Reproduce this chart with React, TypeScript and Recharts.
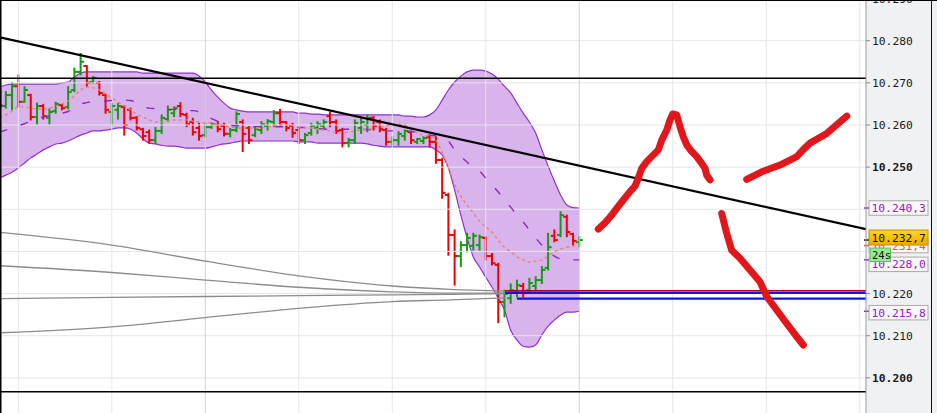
import React from 'react';
import { ComposedChart, XAxis, YAxis, Area, Line, Bar, ReferenceLine, ReferenceArea } from 'recharts';

// ---- OHLC bars (one per minute bar, index -1..92; bar -1 is cut by the left edge) ----
const FIRST_BAR = -1;
const opens = [
  10.2670,
  10.2645, 10.2671, 10.2692, 10.2655, 10.2671, 10.2619, 10.2645, 10.2617, 10.2633, 10.2647,
  10.2643, 10.2683, 10.2726, 10.2740, 10.2702, 10.2700, 10.2671, 10.2631, 10.2636, 10.2643,
  10.2636, 10.2617, 10.2590, 10.2583, 10.2564, 10.2586, 10.2614, 10.2628, 10.2645, 10.2624,
  10.2607, 10.2593, 10.2576, 10.2595, 10.2602, 10.2598, 10.2579, 10.2588, 10.2607, 10.2593,
  10.2576, 10.2588, 10.2598, 10.2607, 10.2628, 10.2607, 10.2598, 10.2588, 10.2564, 10.2581,
  10.2593, 10.2598, 10.2621, 10.2607, 10.2588, 10.2557, 10.2564, 10.2593, 10.2600, 10.2617,
  10.2607, 10.2588, 10.2560, 10.2564, 10.2574, 10.2583, 10.2560, 10.2562, 10.2571, 10.2560,
  10.2517, 10.2434, 10.2339, 10.2289, 10.2315, 10.2313, 10.2315, 10.2332, 10.2289, 10.2268,
  10.2180, 10.2189, 10.2204, 10.2218, 10.2208, 10.2218, 10.2232, 10.2261, 10.2337, 10.2339,
  10.2382, 10.2341, 10.2322,
];
const highs = [
  10.2680,
  10.2679, 10.2701, 10.2719, 10.2691, 10.2673, 10.2652, 10.2649, 10.2638, 10.2654, 10.2649,
  10.2691, 10.2735, 10.2770, 10.2741, 10.2715, 10.2703, 10.2673, 10.2651, 10.2651, 10.2646,
  10.2640, 10.2620, 10.2592, 10.2588, 10.2594, 10.2624, 10.2645, 10.2643, 10.2653, 10.2628,
  10.2616, 10.2604, 10.2604, 10.2605, 10.2608, 10.2604, 10.2592, 10.2631, 10.2612, 10.2596,
  10.2596, 10.2608, 10.2613, 10.2634, 10.2637, 10.2608, 10.2604, 10.2593, 10.2580, 10.2604,
  10.2608, 10.2612, 10.2631, 10.2612, 10.2592, 10.2568, 10.2612, 10.2616, 10.2624, 10.2620,
  10.2612, 10.2592, 10.2572, 10.2584, 10.2588, 10.2584, 10.2568, 10.2572, 10.2576, 10.2572,
  10.2521, 10.2438, 10.2351, 10.2323, 10.2343, 10.2343, 10.2339, 10.2335, 10.2295, 10.2272,
  10.2208, 10.2223, 10.2232, 10.2224, 10.2236, 10.2240, 10.2264, 10.2343, 10.2351, 10.2394,
  10.2386, 10.2343, 10.2335,
];
const lows = [
  10.2640,
  10.2640, 10.2636, 10.2643, 10.2654, 10.2612, 10.2602, 10.2614, 10.2602, 10.2628, 10.2636,
  10.2638, 10.2679, 10.2719, 10.2691, 10.2699, 10.2671, 10.2628, 10.2600, 10.2614, 10.2576,
  10.2612, 10.2588, 10.2564, 10.2557, 10.2556, 10.2580, 10.2608, 10.2620, 10.2620, 10.2596,
  10.2576, 10.2564, 10.2572, 10.2592, 10.2584, 10.2574, 10.2572, 10.2584, 10.2537, 10.2556,
  10.2572, 10.2580, 10.2588, 10.2596, 10.2600, 10.2586, 10.2571, 10.2556, 10.2556, 10.2576,
  10.2580, 10.2592, 10.2596, 10.2580, 10.2548, 10.2548, 10.2556, 10.2580, 10.2584, 10.2588,
  10.2584, 10.2552, 10.2552, 10.2552, 10.2564, 10.2556, 10.2556, 10.2556, 10.2548, 10.2509,
  10.2426, 10.2291, 10.2220, 10.2264, 10.2299, 10.2303, 10.2303, 10.2280, 10.2268, 10.2131,
  10.2145, 10.2177, 10.2192, 10.2192, 10.2204, 10.2208, 10.2224, 10.2256, 10.2323, 10.2335,
  10.2335, 10.2315, 10.2311,
];
const closes = [
  10.2646,
  10.2671, 10.2692, 10.2655, 10.2683, 10.2619, 10.2645, 10.2621, 10.2631, 10.2650, 10.2640,
  10.2678, 10.2726, 10.2750, 10.2700, 10.2712, 10.2676, 10.2636, 10.2645, 10.2645, 10.2600,
  10.2617, 10.2593, 10.2574, 10.2564, 10.2586, 10.2617, 10.2636, 10.2640, 10.2626, 10.2602,
  10.2583, 10.2574, 10.2595, 10.2602, 10.2590, 10.2579, 10.2588, 10.2626, 10.2579, 10.2564,
  10.2590, 10.2602, 10.2609, 10.2628, 10.2607, 10.2593, 10.2581, 10.2564, 10.2576, 10.2598,
  10.2602, 10.2607, 10.2607, 10.2586, 10.2557, 10.2564, 10.2605, 10.2607, 10.2617, 10.2598,
  10.2590, 10.2560, 10.2564, 10.2579, 10.2586, 10.2564, 10.2567, 10.2569, 10.2560, 10.2517,
  10.2439, 10.2339, 10.2289, 10.2315, 10.2332, 10.2337, 10.2334, 10.2289, 10.2272, 10.2180,
  10.2199, 10.2208, 10.2220, 10.2201, 10.2225, 10.2232, 10.2256, 10.2310, 10.2327, 10.2386,
  10.2346, 10.2325, 10.2327,
];

// ---- Bollinger band + moving average ----
const bandUpper = [
  10.2690,
  10.2695, 10.2697, 10.2697, 10.2697, 10.2697, 10.2697, 10.2697, 10.2697, 10.2697, 10.2700,
  10.2702, 10.2714, 10.2723, 10.2726, 10.2726, 10.2726, 10.2726, 10.2726, 10.2726, 10.2726,
  10.2726, 10.2726, 10.2723, 10.2723, 10.2723, 10.2723, 10.2723, 10.2723, 10.2723, 10.2723,
  10.2723, 10.2716, 10.2702, 10.2683, 10.2666, 10.2652, 10.2640, 10.2636, 10.2633, 10.2631,
  10.2631, 10.2631, 10.2631, 10.2631, 10.2631, 10.2631, 10.2631, 10.2628, 10.2628, 10.2626,
  10.2626, 10.2624, 10.2624, 10.2624, 10.2624, 10.2624, 10.2624, 10.2624, 10.2624, 10.2624,
  10.2624, 10.2624, 10.2624, 10.2624, 10.2621, 10.2621, 10.2619, 10.2619, 10.2624, 10.2636,
  10.2659, 10.2683, 10.2702, 10.2716, 10.2726, 10.2730, 10.2730, 10.2728, 10.2721, 10.2709,
  10.2692, 10.2676, 10.2652, 10.2628, 10.2607, 10.2581, 10.2541, 10.2503, 10.2467, 10.2434,
  10.2410, 10.2404, 10.2403,
];
const bandMiddle = [
  10.2583,
  10.2588, 10.2593, 10.2598, 10.2603, 10.2609, 10.2614, 10.2619, 10.2622, 10.2626, 10.2628,
  10.2632, 10.2641, 10.2650, 10.2653, 10.2656, 10.2656, 10.2657, 10.2658, 10.2659, 10.2659,
  10.2658, 10.2653, 10.2645, 10.2640, 10.2639, 10.2638, 10.2637, 10.2637, 10.2636, 10.2634,
  10.2634, 10.2631, 10.2624, 10.2615, 10.2609, 10.2603, 10.2599, 10.2598, 10.2598, 10.2596,
  10.2596, 10.2596, 10.2596, 10.2596, 10.2596, 10.2596, 10.2596, 10.2594, 10.2594, 10.2593,
  10.2592, 10.2590, 10.2590, 10.2590, 10.2590, 10.2590, 10.2590, 10.2590, 10.2589, 10.2588,
  10.2587, 10.2586, 10.2586, 10.2586, 10.2585, 10.2585, 10.2581, 10.2579, 10.2576, 10.2574,
  10.2571, 10.2562, 10.2541, 10.2526, 10.2512, 10.2500, 10.2491, 10.2474, 10.2458, 10.2441,
  10.2422, 10.2405, 10.2386, 10.2370, 10.2351, 10.2332, 10.2315, 10.2301, 10.2289, 10.2282,
  10.2280, 10.2280, 10.2280,
];
const bandLower = [
  10.2474,
  10.2481, 10.2488, 10.2498, 10.2510, 10.2522, 10.2531, 10.2541, 10.2548, 10.2555, 10.2557,
  10.2562, 10.2569, 10.2576, 10.2581, 10.2586, 10.2586, 10.2588, 10.2590, 10.2593, 10.2593,
  10.2590, 10.2581, 10.2567, 10.2557, 10.2555, 10.2552, 10.2550, 10.2550, 10.2548, 10.2545,
  10.2545, 10.2545, 10.2545, 10.2548, 10.2552, 10.2555, 10.2557, 10.2560, 10.2562, 10.2562,
  10.2562, 10.2562, 10.2562, 10.2562, 10.2562, 10.2562, 10.2562, 10.2560, 10.2560, 10.2560,
  10.2557, 10.2557, 10.2557, 10.2557, 10.2557, 10.2557, 10.2557, 10.2557, 10.2555, 10.2552,
  10.2550, 10.2548, 10.2548, 10.2548, 10.2548, 10.2548, 10.2548, 10.2548, 10.2548, 10.2541,
  10.2529, 10.2498, 10.2446, 10.2386, 10.2332, 10.2287, 10.2263, 10.2239, 10.2215, 10.2189,
  10.2161, 10.2113, 10.2090, 10.2075, 10.2073, 10.2078, 10.2102, 10.2123, 10.2137, 10.2149,
  10.2156, 10.2156, 10.2158,
];
const fastMA = [
  10.2617,
  10.2624, 10.2633, 10.2643, 10.2643, 10.2640, 10.2638, 10.2638, 10.2640, 10.2645, 10.2650,
  10.2657, 10.2669, 10.2683, 10.2690, 10.2688, 10.2683, 10.2674, 10.2664, 10.2655, 10.2645,
  10.2636, 10.2626, 10.2619, 10.2612, 10.2607, 10.2607, 10.2609, 10.2612, 10.2612, 10.2612,
  10.2609, 10.2607, 10.2605, 10.2605, 10.2602, 10.2598, 10.2595, 10.2593, 10.2593, 10.2593,
  10.2593, 10.2593, 10.2595, 10.2598, 10.2600, 10.2600, 10.2598, 10.2595, 10.2593, 10.2593,
  10.2590, 10.2588, 10.2586, 10.2583, 10.2583, 10.2583, 10.2586, 10.2588, 10.2590, 10.2593,
  10.2595, 10.2598, 10.2600, 10.2602, 10.2600, 10.2590, 10.2581, 10.2576, 10.2574, 10.2564,
  10.2536, 10.2498, 10.2460, 10.2431, 10.2410, 10.2391, 10.2372, 10.2358, 10.2346, 10.2327,
  10.2310, 10.2299, 10.2287, 10.2280, 10.2275, 10.2277, 10.2280, 10.2289, 10.2299, 10.2306,
  10.2310, 10.2313, 10.2314,
];

// ---- long moving averages (grey) ----
const greyBars = [-0.94, 17, 32, 47, 62, 71.3, 80.1];
const greyA = [10.2345, 10.2315, 10.2277, 10.2242, 10.2218, 10.2210, 10.2206];
const greyB = [10.2266, 10.2250, 10.2232, 10.2215, 10.2204, 10.2201, 10.2201];
const greyC = [10.2188, 10.2191, 10.2193, 10.2195, 10.2197, 10.2198, 10.2200];
const greyD = [10.2107, 10.2121, 10.2143, 10.2165, 10.2181, 10.2185, 10.2190];

// ---- hand drawn strokes (bar index, price) ----
const strokePeak = [
  [95.05, 10.2353], [96.13, 10.2368], [97.2, 10.2386], [98.0, 10.2402], [99.06, 10.2422],
  [100.14, 10.2442], [100.94, 10.2455], [101.47, 10.2474], [102.02, 10.2497], [102.82, 10.2513],
  [103.62, 10.2525], [104.68, 10.2541], [105.23, 10.2564], [106.03, 10.2588], [106.56, 10.2612],
  [106.99, 10.2626], [107.63, 10.2624], [108.16, 10.2596], [108.69, 10.2572], [109.24, 10.2553],
  [110.04, 10.2537], [110.84, 10.2525], [111.64, 10.2509], [112.17, 10.2497], [112.44, 10.2481],
  [112.97, 10.2470],
];
const strokeRise = [
  [118.86, 10.2471], [121.27, 10.2489], [124.21, 10.2505], [126.89, 10.2525], [127.9, 10.2541],
  [129.02, 10.2557], [131.7, 10.2580], [134.91, 10.2621],
];
const strokeFall = [
  [114.85, 10.2390], [115.65, 10.2343], [116.45, 10.2303], [117.78, 10.2284], [119.39, 10.2256],
  [120.99, 10.2228], [122.07, 10.2193], [123.67, 10.2161], [125.28, 10.2129], [126.88, 10.2098],
  [127.94, 10.2078],
];

// ---- drawn levels ----
const trendPoints = [[-0.935, 10.2808], [138, 10.2353]];
const blackLevels = [10.2711, 10.1967];
const colorLevels = [
  { p: 10.2207, from: 80.1 },
  { p: 10.2202, from: 80.1 },
  { p: 10.2188, from: 82.0 },
];
const levelStyles = [
  { color: '#b0001a', w: 1.3 },
  { color: '#0a14e6', w: 2.6 },
  { color: '#0a14e6', w: 2.4 },
];

// ---- axis ----
const X_MIN = -0.935;
const X_MAX = 138.0;
const Y_MIN = 10.19166;
const Y_MAX = 10.28966;
const yTicks = [10.2, 10.21, 10.22, 10.25, 10.26, 10.27, 10.28, 10.29];
const gridPrices = [10.2, 10.21, 10.22, 10.23, 10.24, 10.25, 10.26, 10.27, 10.28, 10.29];
const gridBars = [2, 17, 32, 47, 62, 77, 92, 107, 122, 137];
const majorGridBars = [32, 92];

// ---- price tags on the axis ----
const tagValues = [10.2314, 10.2403, 10.2280, 10.2158];
const tagTexts = ['10.231,4', '10.240,3', '10.228,0', '10.215,8'];
const tagColors = ['#e05a5a', '#9520c9', '#9520c9', '#9520c9'];
const tagNudge = [0, 0, 4.5, 1.4];
const lastPrice = 10.2327;
const lastPriceText = '10.232,7';
const countdownText = '24s';

const cyanMark = { x1: -0.935, x2: -0.62, y1: 10.2636, y2: 10.2688 };

const data = opens.map((o, k) => ({
  i: k + FIRST_BAR,
  o,
  h: highs[k],
  l: lows[k],
  c: closes[k],
  hl: [lows[k], highs[k]],
  band: [bandLower[k], bandUpper[k]],
  mid: bandMiddle[k],
  ema: fastMA[k],
}));

const toPts = (xs: number[], ps: number[]) => xs.map((x, k) => ({ i: x, p: ps[k] }));
const pairPts = (arr: number[][]) => arr.map(([x, p]) => ({ i: x, p }));

const GREEN = '#149a14';
const RED = '#f20000';
const MONO = "'DejaVu Sans Mono', monospace";

const Candle = (props: any) => {
  const { x, y, width, height, payload } = props;
  if (x == null || y == null) return null;
  const top = Math.min(y, y + height);
  const bot = Math.max(y, y + height);
  const { h, l, o, c } = payload;
  const span = h - l || 1;
  const py = (p: number) => top + ((h - p) / span) * (bot - top);
  const cx = x + width / 2;
  const col = c >= o ? GREEN : RED;
  return (
    <g>
      <line x1={cx} x2={cx} y1={top - 0.5} y2={bot + 0.5} stroke={col} strokeWidth={2} />
      <line x1={cx - 3.5} x2={cx} y1={py(o)} y2={py(o)} stroke={col} strokeWidth={2} />
      <line x1={cx} x2={cx + 3.5} y1={py(c)} y2={py(c)} stroke={col} strokeWidth={2} />
    </g>
  );
};

const PriceTick = (props: any) => {
  const { x, y, payload } = props;
  const v = payload.value as number;
  const bold = Math.round(v * 1000) % 50 === 0;
  return (
    <text x={x} y={y} dy="0.36em" textAnchor="start" fontFamily={MONO} fontSize={11.3}
      fontWeight={bold ? 'bold' : 'normal'} fill="#1a1a1a">
      {v.toFixed(3)}
    </text>
  );
};

const makeTag = (text: string, color: string, nudge: number) => (props: any) => {
  const vb = props.viewBox || {};
  const yy = (vb.y || 0) + (vb.height || 0) / 2;
  const xr = (vb.x || 0) + (vb.width || 0);
  return (
    <g>
      <line x1={xr - 2} x2={xr + 3} y1={yy} y2={yy} stroke={color} strokeWidth={1.5} />
      <rect x={xr + 3} y={yy + nudge - 7.25} width={59} height={14.5} fill="#f7f7f7" stroke="#a9a9a9" />
      <text x={xr + 5.5} y={yy + nudge} dy="0.36em" fill={color} fontFamily={MONO} fontSize={11.3}>{text}</text>
    </g>
  );
};

const lastTag = (props: any) => {
  const vb = props.viewBox || {};
  const yy = (vb.y || 0) + (vb.height || 0) / 2;
  const xr = (vb.x || 0) + (vb.width || 0);
  return (
    <g>
      <defs>
        <linearGradient id="lastGrad" x1="0" y1="0" x2="0" y2="1">
          <stop offset="0%" stopColor="#ffd81a" />
          <stop offset="100%" stopColor="#f0a800" />
        </linearGradient>
      </defs>
      <line x1={xr - 2} x2={xr + 3} y1={yy} y2={yy} stroke="#111" strokeWidth={1.5} />
      <rect x={xr + 3} y={yy - 10} width={59} height={15} fill="url(#lastGrad)" stroke="#c98f00" />
      <text x={xr + 5.5} y={yy - 2.5} dy="0.36em" fill="#111" fontFamily={MONO} fontSize={11.3}>{lastPriceText}</text>
      <rect x={xr + 4} y={yy + 8} width={20.5} height={13.5} fill="#92ea92" stroke="#62bd62" />
      <text x={xr + 6} y={yy + 14.8} dy="0.36em" fill="#111" fontFamily={MONO} fontSize={10.5}>{countdownText}</text>
    </g>
  );
};

export default function App() {
  return (
    <div style={{ position: 'absolute', left: 0, top: 0, width: 937, height: 413, background: '#fff', overflow: 'hidden' }}>
      <div style={{ position: 'absolute', left: 866, top: 0, width: 71, height: 413, background: '#f0f1f3' }} />
      <div style={{ position: 'absolute', left: 0, top: 0 }}>
        <ComposedChart width={937} height={413} data={data} margin={{ top: 0, right: 0, bottom: 0, left: 0 }}>
          <XAxis type="number" dataKey="i" domain={[X_MIN, X_MAX]} hide allowDataOverflow />
          <YAxis
            orientation="right"
            type="number"
            width={71}
            domain={[Y_MIN, Y_MAX]}
            allowDataOverflow
            ticks={yTicks}
            interval={0}
            tick={<PriceTick />}
            tickSize={4}
            tickMargin={2}
            axisLine={{ stroke: '#9a9a9a' }}
            tickLine={{ stroke: '#8a8a8a' }}
          />
          {gridPrices.map((p) => (
            <ReferenceLine key={'gp' + p} y={p} stroke="#e6e6e6" strokeWidth={1} />
          ))}
          {gridBars.map((b) => (
            <ReferenceLine key={'gb' + b} x={b} stroke={majorGridBars.includes(b) ? '#d2d2d2' : '#e6e6e6'} strokeWidth={1} />
          ))}
          <Area dataKey="band" type="monotone" fill="#d9b3ec" fillOpacity={1} stroke="#9030cc" strokeWidth={1.2}
            isAnimationActive={false} dot={false} activeDot={false} />
          {[greyA, greyB, greyC, greyD].map((g, k) => (
            <Line key={'g' + k} data={toPts(greyBars, g)} dataKey="p" type="monotone" stroke="#8c8c8c" strokeWidth={1.3}
              dot={false} activeDot={false} isAnimationActive={false} />
          ))}
          <Line dataKey="mid" type="monotone" stroke="#8a28c8" strokeWidth={1.4} strokeDasharray="8 14"
            dot={false} activeDot={false} isAnimationActive={false} />
          <Line dataKey="ema" type="monotone" stroke="#e98473" strokeWidth={1.4} strokeDasharray="3 3"
            dot={false} activeDot={false} isAnimationActive={false} />
          <Bar dataKey="hl" barSize={6} shape={<Candle />} isAnimationActive={false} />
          <ReferenceLine x={X_MIN} stroke="#000" strokeWidth={3} ifOverflow="visible" />
          <ReferenceArea x1={cyanMark.x1} x2={cyanMark.x2} y1={cyanMark.y1} y2={cyanMark.y2} fill="#00e1f0" fillOpacity={1} stroke="none" />
          {blackLevels.map((p) => (
            <ReferenceLine key={'bl' + p} y={p} stroke="#000" strokeWidth={1.4} />
          ))}
          {colorLevels.map((lv, k) => (
            <ReferenceLine key={'cl' + k} segment={[{ x: lv.from, y: lv.p }, { x: X_MAX, y: lv.p }]}
              stroke={levelStyles[k].color} strokeWidth={levelStyles[k].w} ifOverflow="visible" />
          ))}
          <Line data={pairPts(trendPoints)} dataKey="p" type="linear" stroke="#000" strokeWidth={2.2}
            dot={false} activeDot={false} isAnimationActive={false} />
          {[strokePeak, strokeRise, strokeFall].map((s, k) => (
            <Line key={'s' + k} data={pairPts(s)} dataKey="p" type="linear" stroke="#e2171b" strokeWidth={7}
              strokeLinecap="round" strokeLinejoin="round" dot={false} activeDot={false} isAnimationActive={false} />
          ))}
          {tagValues.map((v, k) => (
            <ReferenceLine key={'tag' + k} y={v} stroke="transparent" strokeWidth={0} ifOverflow="visible"
              label={makeTag(tagTexts[k], tagColors[k], tagNudge[k])} />
          ))}
          <ReferenceLine y={lastPrice} stroke="transparent" strokeWidth={0} ifOverflow="visible" label={lastTag} />
        </ComposedChart>
      </div>
      <div style={{ position: 'absolute', left: 0, top: 0, width: 937, height: 413, borderTop: '1px solid #000', boxSizing: 'border-box', pointerEvents: 'none' }} />
      <div style={{ position: 'absolute', left: 931, top: 0, width: 1, height: 413, background: '#111' }} />
    </div>
  );
}
